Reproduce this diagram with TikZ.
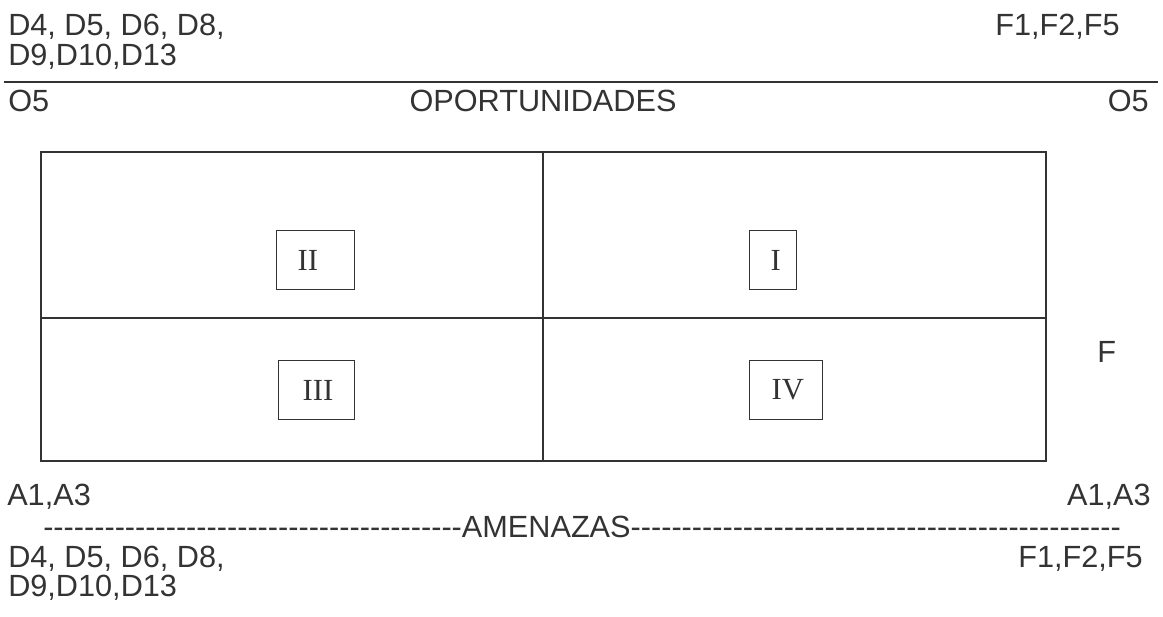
\documentclass[tikz,border=0pt]{standalone}
\usepackage{fontspec}
\setmainfont{Liberation Sans}
\newfontfamily\romanfont{Liberation Serif}
\usetikzlibrary{positioning}
\newcommand\lblfont{\fontsize{23}{22}\selectfont}
\newcommand\dashten{-{}-{}-{}-{}-{}-{}-{}-{}-{}-{}}

\begin{document}
\begin{tikzpicture}[x=0.75pt,y=-0.75pt,
  txt/.style={font=\lblfont,text=black!80,inner sep=0pt},
  rule/.style={draw=black!80,line width=1.2pt},
  quad/.style={draw=black!80,line width=0.9pt,text=black!80,font=\romanfont\fontsize{23}{27}\selectfont,
    anchor=north west,minimum height=44.25pt,inner ysep=0pt,align=left}]
\useasboundingbox (0,0) rectangle (1163,617);
% top labels
\node[txt,anchor=base west] (dtopa) at (8,36) {D4, D5, D6, D8,};
\node[txt,anchor=base west] (dtopb) at (8,65) {D9,D10,D13};
\node[txt,anchor=base east] (ftop) at (1120,36) {F1,F2,F5};
\coordinate (rulea) at (4,82);
\coordinate (ruleb) at (1158,82);
\draw[rule] (rulea) -- (ruleb);
\node[txt,anchor=base west] (oleft) at (8,112) {O5};
\node[txt,anchor=base] (opor) at (543,112) {OPORTUNIDADES};
\node[txt,anchor=base east] (oright) at (1149,112) {O5};

% the matrix
\draw[rule,line width=1.1pt] (41,152) rectangle (1046,461);
\draw[rule,line width=1.1pt] (543,152) -- (543,461);
\draw[rule,line width=1.1pt] (41,318) -- (1046,318);
\node[quad,inner xsep=15.75pt,text width=27pt] (qII) at (276,230) {II};
\node[quad,inner xsep=15.75pt,text width=3.75pt] (qI) at (749,230) {I};
\node[quad,inner xsep=18pt,text width=21pt] (qIII) at (278,360) {III};
\node[quad,inner xsep=16.5pt,text width=21.75pt] (qIV) at (749,360) {IV};
\node[txt,anchor=base west] (flbl) at (1097,362) {F};

% bottom labels
\node[txt,anchor=base west] (aleft) at (7,505) {A1,A3};
\node[txt,anchor=base east] (aright) at (1151,505) {A1,A3};
\node[txt,anchor=base west] (amen) at (43,537) {\dashten\dashten\dashten\dashten-{}AMENAZAS\dashten\dashten\dashten\dashten-{}-{}-{}-{}-{}-{}-{}-{}};
\node[txt,anchor=base west] (dbota) at (8,567) {D4, D5, D6, D8,};
\node[txt,anchor=base west] (dbotb) at (8,596) {D9,D10,D13};
\node[txt,anchor=base east] (fbot) at (1143,567) {F1,F2,F5};
\end{tikzpicture}
\end{document}
